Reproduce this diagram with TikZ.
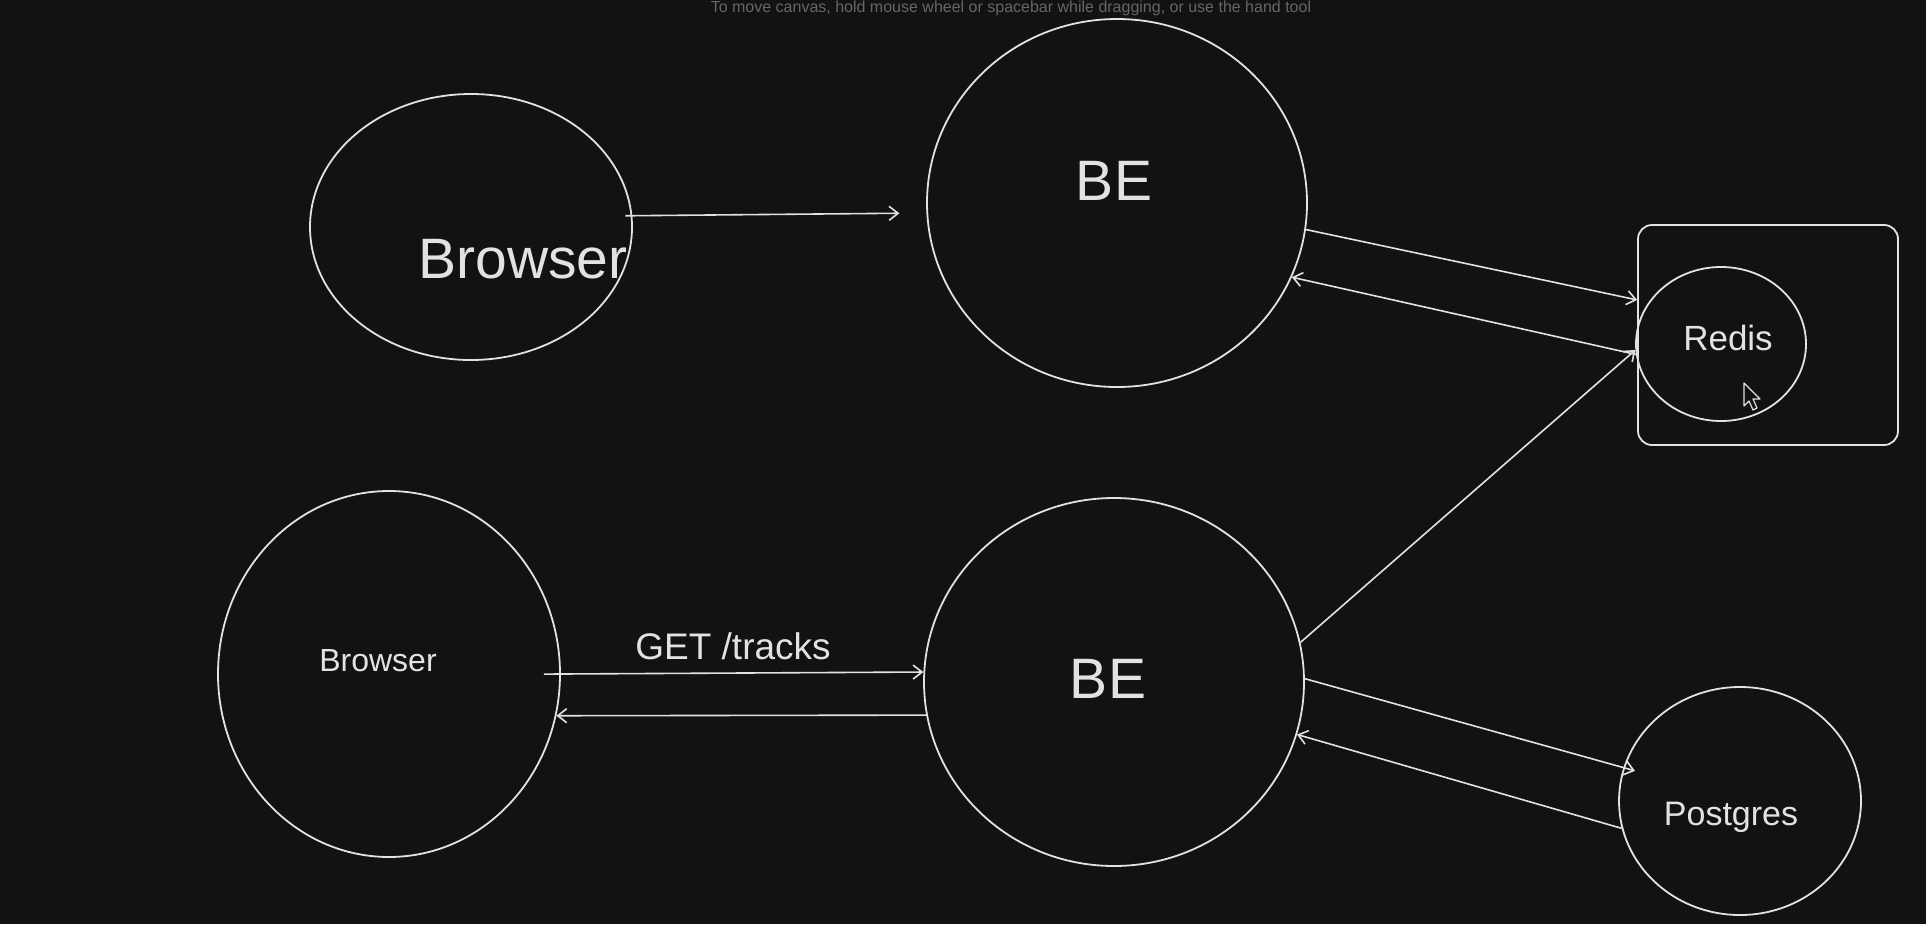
\documentclass[tikz,border=0pt]{standalone}
\usepackage{fontspec}
\setmainfont{Liberation Sans}
\usetikzlibrary{shapes.geometric,arrows.meta}
\definecolor{bgc}{HTML}{121212}
\definecolor{inkc}{HTML}{E2E2E2}
\definecolor{hintc}{HTML}{666666}
\tikzset{
  blob/.style={ellipse, draw=inkc, line width=1.8pt, inner sep=0pt},
  lbl/.style={text=inkc, inner sep=0pt},
  arr/.style={draw=inkc, line width=1.6pt, -{Straight Barb[length=9pt,width=14pt,line width=1.6pt]}},
  boxc/.style={rectangle, draw=inkc, line width=1.8pt, rounded corners=14pt, inner sep=0pt}
}
\begin{document}
\begin{tikzpicture}[x=1pt,y=-1pt]
\fill[bgc] (0,0) rectangle (1926,924);
\useasboundingbox (0,0) rectangle (1926,924);

\node[text=hintc, inner sep=0pt, font=\fontsize{16}{18}\selectfont] (hint) at (1011,8) {To move canvas, hold mouse wheel or spacebar while dragging, or use the hand tool};

% nodes
\node[blob, minimum width=322pt, minimum height=266pt] (b1) at (471,227) {};
\node[blob, minimum width=380pt, minimum height=368pt] (be1) at (1117,203) {};
\node[blob, minimum width=342pt, minimum height=366pt] (b2) at (389,674) {};
\node[blob, minimum width=380pt, minimum height=368pt] (be2) at (1114,682) {};
\node[boxc, minimum width=260pt, minimum height=220pt] (rbox) at (1768,335) {};
\node[blob, minimum width=170pt, minimum height=154pt] (redis) at (1721,344) {};
\node[blob, minimum width=242pt, minimum height=228pt] (pg) at (1740,801) {};

% labels
\node[lbl, font=\fontsize{57}{60}\selectfont] (tb1) at (523,259) {Browser};
\node[lbl, font=\fontsize{57}{60}\selectfont] (tbe1) at (1114,181) {BE};
\node[lbl, font=\fontsize{32}{36}\selectfont] (tb2) at (378,661) {Browser};
\node[lbl, font=\fontsize{57}{60}\selectfont] (tbe2) at (1108,679) {BE};
\node[lbl, font=\fontsize{35}{38}\selectfont] (tredis) at (1728,338) {Redis};
\node[lbl, font=\fontsize{34}{38}\selectfont] (tpg) at (1731,817) {Postgres};
\node[lbl, font=\fontsize{37}{40}\selectfont] (tget) at (733,646) {GET /tracks};

% connectors
\draw[arr, shorten <=-7pt, shorten >=27pt] (b1.4) -- (be1.183);
\draw[arr] (be1.-8) -- (rbox.165.8);
\draw[arr] (redis.187) -- (be1.-23.5);
\draw[arr] (be2.12) -- (redis.184);
\draw[arr, shorten <=-17pt] (b2.-0.7) -- (be2.177);
\draw[arr] (be2.190) -- (b2.-14.4);
\draw[arr, shorten >=-12pt] (be2.1) -- (pg.164);
\draw[arr] (pg.193) -- (be2.-16.4);

% mouse cursor
\draw[inkc, fill=bgc, line width=1.2pt, line join=round]
  (1744,383) -- (1744,406) -- (1749,401) -- (1753,410) -- (1757,408) -- (1753,399) -- (1760,399) -- cycle;
\end{tikzpicture}
\end{document}
